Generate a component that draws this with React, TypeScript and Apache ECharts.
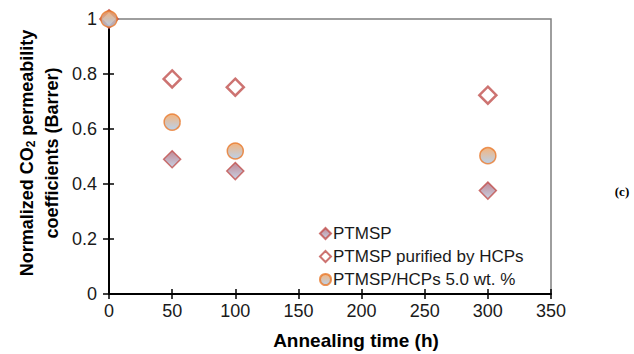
import React, { useEffect, useRef } from "react";
import * as echarts from "echarts";

const annealingTime = [0, 50, 100, 300];
const ptmsp = [1.0, 0.49, 0.447, 0.376];
const ptmspPurified = [1.0, 0.782, 0.752, 0.723];
const ptmspHcps = [1.0, 0.625, 0.52, 0.503];
const seriesNames = ["PTMSP", "PTMSP purified by HCPs", "PTMSP/HCPs 5.0 wt. %"];

const FONT = "'Liberation Sans', Arial, sans-serif";

export default function App() {
  const ref = useRef<HTMLDivElement>(null);
  useEffect(() => {
    if (!ref.current) return;
    const chart = echarts.init(ref.current, undefined, { renderer: "svg" });
    const pair = (vals: number[]) => annealingTime.map((t, i) => [t, vals[i]]);
    const diamondFill = new echarts.graphic.LinearGradient(0, 0, 0, 1, [
      { offset: 0, color: "#b26a7a" },
      { offset: 1, color: "#b9c8de" },
    ]);
    const circleFill = new echarts.graphic.LinearGradient(0, 0, 0, 1, [
      { offset: 0, color: "#f1a25e" },
      { offset: 1, color: "#a9c6e6" },
    ]);
    const baseX = {
      type: "value",
      min: 0,
      max: 350,
      interval: 50,
      splitLine: { show: false },
    };
    const baseY = {
      type: "value",
      min: 0,
      max: 1,
      interval: 0.2,
      splitLine: { show: false },
    };
    chart.setOption({
      animation: false,
      grid: {
        left: 109,
        right: 83,
        top: 19,
        bottom: 60,
        show: true,
        borderColor: "#7f7f7f",
        borderWidth: 1.5,
      },
      xAxis: [
        {
          ...baseX,
          axisLine: { lineStyle: { color: "#000", width: 2 } },
          axisTick: { length: 5, lineStyle: { color: "#000", width: 1.5 } },
          axisLabel: { color: "#1a1a1a", fontSize: 18, fontFamily: FONT, margin: 8 },
        },
        {
          ...baseX,
          position: "bottom",
          axisLine: { show: false },
          axisTick: { inside: true, length: 5, lineStyle: { color: "#000", width: 1.5 } },
          axisLabel: { show: false },
        },
      ],
      yAxis: [
        {
          ...baseY,
          axisLine: { lineStyle: { color: "#000", width: 2 } },
          axisTick: { length: 6, lineStyle: { color: "#000", width: 1.5 } },
          axisLabel: {
            color: "#1a1a1a",
            fontSize: 18,
            fontFamily: FONT,
            margin: 12,
            formatter: (v: number) => String(Number(v.toFixed(1))),
          },
        },
        {
          ...baseY,
          position: "left",
          axisLine: { show: false },
          axisTick: { inside: true, length: 5, lineStyle: { color: "#000", width: 1.5 } },
          axisLabel: { show: false },
        },
      ],
      legend: {
        orient: "vertical",
        left: 314,
        top: 220,
        itemWidth: 11,
        itemHeight: 11,
        itemGap: 6,
        textStyle: { fontSize: 17, fontFamily: FONT, color: "#1a1a1a", padding: [0, 0, 0, -3] },
        data: seriesNames,
      },
      series: [
        {
          name: seriesNames[0],
          type: "scatter",
          symbol: "diamond",
          symbolSize: 17,
          data: pair(ptmsp),
          itemStyle: { color: diamondFill, borderColor: "#c0504d", borderWidth: 1.5 },
          z: 2,
        },
        {
          name: seriesNames[1],
          type: "scatter",
          symbol: "diamond",
          symbolSize: 17,
          data: pair(ptmspPurified),
          itemStyle: { color: "#ffffff", borderColor: "#c0504d", borderWidth: 2.5 },
          z: 3,
        },
        {
          name: seriesNames[2],
          type: "scatter",
          symbol: "circle",
          symbolSize: 16,
          data: pair(ptmspHcps),
          itemStyle: { color: circleFill, borderColor: "#e8782a", borderWidth: 1.5 },
          z: 4,
        },
      ],
      graphic: [
        {
          type: "text",
          x: 356,
          y: 340,
          style: {
            text: "Annealing time (h)",
            fontSize: 19,
            fontWeight: "bold",
            fontFamily: FONT,
            fill: "#000",
            align: "center",
            verticalAlign: "middle",
          },
        },
        {
          type: "text",
          x: 39,
          y: 153,
          rotation: Math.PI / 2,
          style: {
            text: "{a|Normalized CO}{s|2}{a| permeability}\n{a|coefficients (Barrer)}",
            align: "center",
            verticalAlign: "middle",
            fill: "#000",
            rich: {
              a: { fontSize: 18, fontWeight: "bold", fontFamily: FONT, fill: "#000", lineHeight: 25 },
              s: { fontSize: 12, fontWeight: "bold", fontFamily: FONT, fill: "#000", lineHeight: 25, padding: [8, 0, 0, 0] },
            },
          },
        },
        {
          type: "text",
          x: 622,
          y: 191,
          style: {
            text: "(c)",
            fontSize: 13,
            fontWeight: "bold",
            fontFamily: "'Liberation Serif', 'DejaVu Serif', serif",
            fill: "#000",
            align: "center",
            verticalAlign: "middle",
          },
        },
      ],
    });
    return () => chart.dispose();
  }, []);
  return (
    <div
      ref={ref}
      style={{ position: "absolute", left: 0, top: 0, width: 634, height: 354 }}
    />
  );
}
